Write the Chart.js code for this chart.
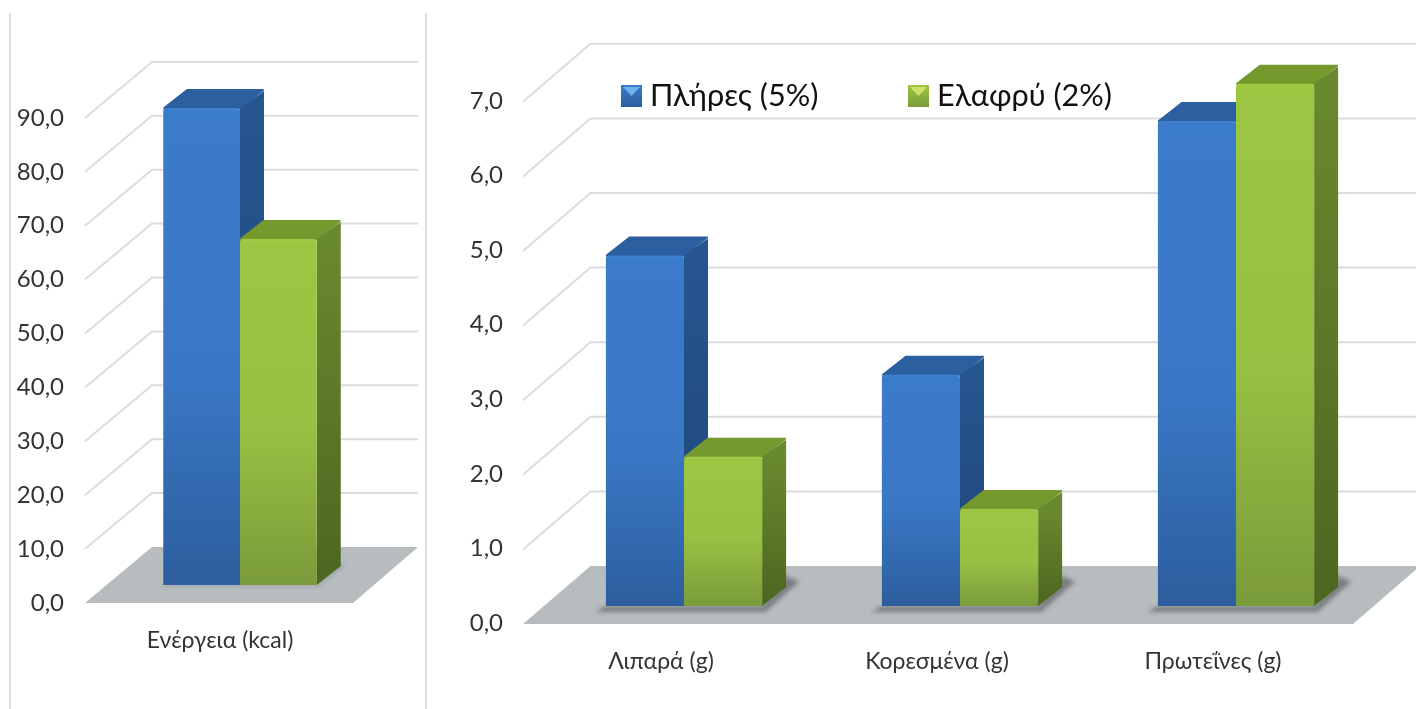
<!DOCTYPE html>
<html>
<head>
<meta charset="utf-8">
<title>Πλήρες / Ελαφρύ</title>
<script src="https://cdn.jsdelivr.net/npm/chart.js@4"></script>
<style>
    html, body { margin: 0; padding: 0; background: #fff; overflow: hidden; }
    .frame { position: absolute; top: 13px; bottom: 0; width: 2px; background: #dcdcdc; }
    .panel { position: absolute; top: 0; height: 709px; }
</style>
</head>
<body>
<div class="frame" style="left:9px"></div>
<div class="frame" style="left:425px"></div>
<div class="panel" style="left:0;width:424px"><canvas id="energyChart"></canvas></div>
<div class="panel" style="left:430px;width:986px"><canvas id="nutrientChart"></canvas></div>

<script>
// --- 1. DATA ---
const seriesNames = ['Πλήρες (5%)', 'Ελαφρύ (2%)'];

const energyCategories = ['Ενέργεια (kcal)'];
const energyFull = [88.5];
const energyLight = [64.2];
const energyTicks = [0, 10, 20, 30, 40, 50, 60, 70, 80, 90];
const energyTickLabels = ['0,0', '10,0', '20,0', '30,0', '40,0', '50,0', '60,0', '70,0', '80,0', '90,0'];

const nutrientCategories = ['Λιπαρά (g)', 'Κορεσμένα (g)', 'Πρωτεΐνες (g)'];
const nutrientFull = [4.7, 3.1, 6.5];
const nutrientLight = [2.0, 1.3, 7.0];
const nutrientTicks = [0, 1, 2, 3, 4, 5, 6, 7];
const nutrientTickLabels = ['0,0', '1,0', '2,0', '3,0', '4,0', '5,0', '6,0', '7,0'];

const LABEL_FONT = 'Lato, "Open Sans", "Noto Sans", sans-serif';

const BLUE = { front: ['#3f80d0', '#3b7bcb', '#3a78c6', '#2c5e9d'], top: '#2b5f9f', side: ['#265590', '#1f4677'] };
const GREEN = { front: ['#a2cb48', '#9cc642', '#98c042', '#7a9b3a'], top: '#76992e', side: ['#69892f', '#4d6620'] };

// --- 2. FAKE 3D: WALL, FLOOR AND BAR SIDES ---

function frontGradient(context, colors) {
    const { chart, parsed } = context;
    const yScale = chart.scales.y;
    if (!yScale || !parsed) return colors[1];
    const top = yScale.getPixelForValue(parsed.y);
    const bottom = yScale.getPixelForValue(0);
    // scales have no size yet on the very first resolve
    if (!Number.isFinite(top) || !Number.isFinite(bottom) || bottom <= top) return colors[1];
    const g = chart.ctx.createLinearGradient(0, top, 0, bottom);
    g.addColorStop(0, colors[0]);
    g.addColorStop(Math.min(0.02, 4 / (bottom - top)), colors[1]);
    g.addColorStop(0.55, colors[2]);
    g.addColorStop(1, colors[3]);
    return g;
}

function polygon(ctx, pts, fill) {
    ctx.beginPath();
    pts.forEach((p, i) => i ? ctx.lineTo(p[0], p[1]) : ctx.moveTo(p[0], p[1]));
    ctx.closePath();
    ctx.fillStyle = fill;
    ctx.fill();
}

// same as polygon, with the far corners softened by a round-joined stroke
function softPolygon(ctx, pts, fill) {
    polygon(ctx, pts, fill);
    ctx.strokeStyle = fill;
    ctx.lineWidth = 2;
    ctx.lineJoin = 'round';
    ctx.stroke();
}

const depthPlugin = {
    id: 'depth',
    beforeDatasetsDraw(chart, args, opts) {
        const { ctx, scales: { y } } = chart;
        const zero = y.getPixelForValue(0);

        ctx.save();
        // floor
        polygon(ctx, [
            [opts.frontLeft, zero + opts.frontDrop],
            [opts.backLeft, zero - opts.backRise],
            [opts.backRight, zero - opts.backRise],
            [opts.frontRight, zero + opts.frontDrop]
        ], '#b7bcbe');

        // wall lines, one per tick
        ctx.strokeStyle = '#dcdcdc';
        ctx.lineWidth = 2;
        y.ticks.forEach(tick => {
            if (tick.value === 0) return;
            const p = y.getPixelForValue(tick.value);
            ctx.beginPath();
            ctx.moveTo(opts.frontLeft, p + opts.frontDrop);
            ctx.lineTo(opts.backLeft, p - opts.backRise);
            ctx.lineTo(opts.backRight, p - opts.backRise);
            ctx.stroke();
        });

        // soft shadow under each bar pair
        const metaA = chart.getDatasetMeta(0).data;
        const metaB = chart.getDatasetMeta(1).data;
        const s = opts.shadow;
        ctx.save();
        ctx.filter = 'blur(2px)';
        metaA.forEach((a, i) => {
            const b = metaB[i];
            const left = a.x - a.width / 2;
            const right = b.x + b.width / 2;
            polygon(ctx, [
                [left - s, zero + s * 0.55],
                [right + s * 0.3, zero + s * 0.55],
                [right + opts.dx + s * 1.2, zero - opts.dy - s * 0.5],
                [right + opts.dx, zero - opts.dy - s],
                [right, zero],
                [left, zero]
            ], '#7b7f82');
        });
        ctx.restore();

        // top and side faces, drawn behind the front faces of the bars
        chart.data.datasets.forEach((ds, di) => {
            const faces = di === 0 ? BLUE : GREEN;
            chart.getDatasetMeta(di).data.forEach(bar => {
                const l = bar.x - bar.width / 2;
                const r = bar.x + bar.width / 2;
                const side = ctx.createLinearGradient(0, bar.y, 0, bar.base);
                side.addColorStop(0, faces.side[0]);
                side.addColorStop(1, faces.side[1]);
                softPolygon(ctx, [
                    [l + 1, bar.y],
                    [l + opts.dx, bar.y - opts.dy + 1],
                    [r + opts.dx - 1, bar.y - opts.dy + 1],
                    [r, bar.y]
                ], faces.top);
                polygon(ctx, [
                    [r, bar.y],
                    [r + opts.dx, bar.y - opts.dy + 2],
                    [r + opts.dx, bar.base - opts.dy],
                    [r, bar.base]
                ], side);
            });
        });
        ctx.restore();
    }
};

// legend sits over the wall, so it is drawn by hand instead of taking layout space
const cornerLegend = {
    id: 'cornerLegend',
    afterDatasetsDraw(chart, args, opts) {
        if (!opts.items) return;
        const { ctx } = chart;
        ctx.save();
        ctx.font = opts.font;
        ctx.textBaseline = 'middle';
        ctx.textAlign = 'left';
        opts.items.forEach((item, i) => {
            const faces = i === 0 ? BLUE : GREEN;
            const g = ctx.createLinearGradient(0, opts.y, 0, opts.y + 22);
            g.addColorStop(0, faces.front[1]);
            g.addColorStop(1, faces.front[3]);
            ctx.fillStyle = g;
            ctx.fillRect(item.x, opts.y, 21, 22);
            polygon(ctx, [[item.x + 2, opts.y + 2], [item.x + 19, opts.y + 2], [item.x + 10.5, opts.y + 11]], i === 0 ? '#6bb4ee' : '#cde06a');
            ctx.fillStyle = '#111';
            ctx.fillText(chart.data.datasets[i].label, item.x + 29, opts.y + 11);
        });
        ctx.restore();
    }
};

// --- 3. CHARTS ---

function buildChart(canvasId, cfg) {
    return new Chart(document.getElementById(canvasId), {
        type: 'bar',
        data: {
            labels: cfg.categories,
            datasets: [
                { label: seriesNames[0], data: cfg.full, backgroundColor: c => frontGradient(c, BLUE.front) },
                { label: seriesNames[1], data: cfg.light, backgroundColor: c => frontGradient(c, GREEN.front) }
            ]
        },
        plugins: [depthPlugin, cornerLegend],
        options: {
            responsive: true,
            maintainAspectRatio: false,
            animation: false,
            layout: { padding: { top: cfg.padTop, right: cfg.padRight, left: 0, bottom: 0 } },
            datasets: {
                bar: {
                    categoryPercentage: cfg.catPct,
                    barPercentage: 1,
                    borderRadius: { topLeft: 3, topRight: 3, bottomLeft: 0, bottomRight: 0 },
                    borderSkipped: false
                }
            },
            scales: {
                x: {
                    grid: { display: false },
                    border: { display: false },
                    afterFit: s => { s.height = cfg.axisHeight; },
                    ticks: {
                        color: '#333',
                        font: { family: LABEL_FONT, size: cfg.xFont },
                        padding: cfg.xPad,
                        labelOffset: cfg.xOffset,
                        maxRotation: 0
                    }
                },
                y: {
                    min: 0,
                    max: cfg.yMax,
                    grid: { display: false, drawTicks: false },
                    border: { display: false },
                    // the tick padding would otherwise also push the plot area down
                    afterFit: s => { s.width = cfg.axisWidth; s.paddingTop = 0; s.paddingBottom = 0; },
                    afterBuildTicks: s => { s.ticks = cfg.ticks.map(value => ({ value })); },
                    ticks: {
                        autoSkip: false,
                        color: '#333',
                        font: { family: LABEL_FONT, size: cfg.yFont },
                        padding: cfg.yPad,
                        labelOffset: cfg.yOffset,
                        callback: (v, i) => cfg.tickLabels[i]
                    }
                }
            },
            plugins: {
                legend: { display: false },
                tooltip: { enabled: false },
                depth: cfg.depth,
                cornerLegend: cfg.legend || {}
            }
        }
    });
}

document.fonts.ready.then(() => {
    buildChart('energyChart', {
        categories: energyCategories, full: energyFull, light: energyLight,
        ticks: energyTicks, tickLabels: energyTickLabels,
        yMax: 100, padTop: 46, padRight: 59, axisHeight: 124, axisWidth: 115,
        catPct: 0.614, xFont: 23, xPad: 34, xOffset: -20, yFont: 24, yPad: 51, yOffset: 18,
        depth: { frontLeft: 85, backLeft: 152, backRight: 418, frontRight: 353, frontDrop: 18, backRise: 38, dx: 24, dy: 19, shadow: 2 }
    });

    buildChart('nutrientChart', {
        categories: nutrientCategories, full: nutrientFull, light: nutrientLight,
        ticks: nutrientTicks, tickLabels: nutrientTickLabels,
        yMax: 8, padTop: 9.2, padRight: 42, axisHeight: 103, axisWidth: 116,
        catPct: 0.566, xFont: 23, xPad: 34, xOffset: -23, yFont: 24, yPad: 43, yOffset: 17,
        depth: { frontLeft: 93, backLeft: 160.5, backRight: 990, frontRight: 923, frontDrop: 18, backRise: 40, dx: 24, dy: 19, shadow: 11 },
        legend: { y: 85, font: '30.6px ' + LABEL_FONT, items: [{ x: 191 }, { x: 478 }] }
    });
});
</script>
</body>
</html>
